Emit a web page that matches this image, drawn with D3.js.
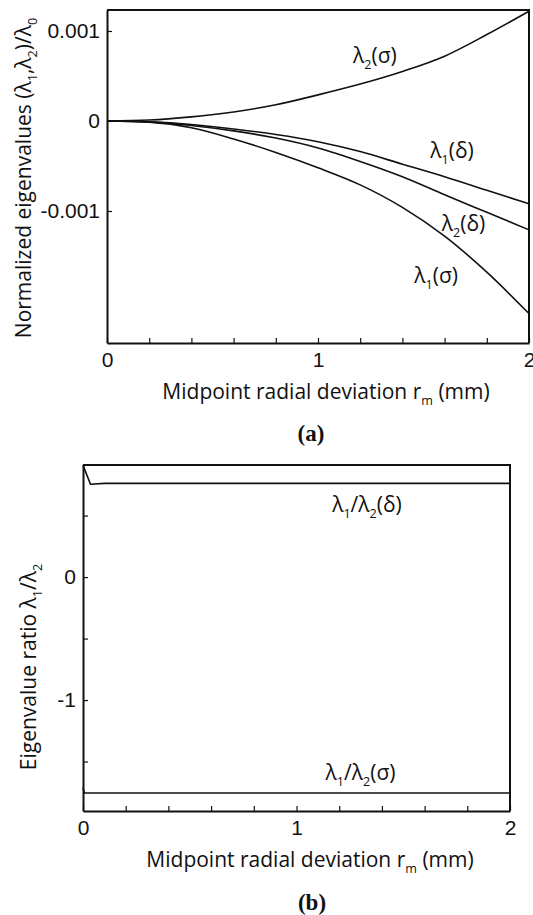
<!DOCTYPE html>
<html>
<head>
<meta charset="utf-8">
<script src="https://cdn.jsdelivr.net/npm/d3@7"></script>
<style>
  body { margin: 0; background: #fff; }
  svg { display: block; font-family: "Open Sans", sans-serif; }
  text { fill: #111; }
  .domain { stroke: #111; stroke-width: 2; }
  .tick line { stroke: #111; stroke-width: 1.2; }
</style>
</head>
<body>
<svg></svg>
<script>
let width = 533;
let height = 915;

// midpoint radial deviation r_m (mm)
let rm = [0, 0.2, 0.4, 0.6, 0.8, 1.0, 1.2, 1.4, 1.6, 1.8, 2.0];

// (a) normalized eigenvalues
let lam2Sigma = [0, 0.00001, 0.000045, 0.0001, 0.00018, 0.00029, 0.00041, 0.00055, 0.00072, 0.00096, 0.00122];
let lam1Delta = [0, -0.00001, -0.00004, -0.00009, -0.00015, -0.00023, -0.00034, -0.00048, -0.00062, -0.00077, -0.00092];
let lam2Delta = [0, -0.00001, -0.00005, -0.00011, -0.00019, -0.0003, -0.00045, -0.00062, -0.00082, -0.001015, -0.00121];
let lam1Sigma = [0, -0.000015, -0.000075, -0.0002, -0.00035, -0.00052, -0.00071, -0.00096, -0.00128, -0.00168, -0.00214];

// (b) eigenvalue ratio
let ratioDeltaX = [0, 0.035, 0.1, 2.0];
let ratioDelta = [0.91, 0.755, 0.762, 0.762];
let ratioSigmaX = [0, 0.006, 2.0];
let ratioSigma = [-1.71, -1.756, -1.756];

// ticks
let xTicks = [0, 0.2, 0.4, 0.6, 0.8, 1.0, 1.2, 1.4, 1.6, 1.8, 2.0];
let yTicksA = [-0.001, 0, 0.001];
let yTicksB = [-1.5, -1, -0.5, 0, 0.5];

let fs = 21;

let svg = d3.select("svg")
    .attr("width", width)
    .attr("height", height);

let pa = {left: 107, right: 529, top: 10, bottom: 343};
let pb = {left: 83, right: 510, top: 465, bottom: 811};

let xA = d3.scaleLinear().domain([0, 2]).range([pa.left, pa.right]);
let yA = d3.scaleLinear().domain([-0.002467, 0.001233]).range([pa.bottom, pa.top]);
let xB = d3.scaleLinear().domain([0, 2]).range([pb.left, pb.right]);
let yB = d3.scaleLinear().domain([-1.902, 0.911]).range([pb.bottom, pb.top]);

let fmtX = d => Math.abs(d - Math.round(d)) < 1e-9 ? String(Math.round(d)) : "";

// draws text with subscript parts: [["λ", false], ["1", true], ...]
function richText(g, parts, x, y, size, anchor, rotate) {
    let t = g.append("text")
        .attr("x", x)
        .attr("y", y)
        .attr("text-anchor", anchor || "middle")
        .style("font-size", size + "px");
    if (rotate) t.attr("transform", "rotate(-90," + x + "," + y + ")");
    let shift = 0;
    parts.forEach(p => {
        let dy = p[1] ? size * 0.3 - shift : -shift;
        shift = p[1] ? size * 0.3 : 0;
        t.append("tspan")
            .attr("dy", dy)
            .style("font-size", p[1] ? (size * 0.6) + "px" : null)
            .text(p[0]);
    });
    return t;
}

function frame(p) {
    svg.append("path")
        .attr("d", "M" + p.left + "," + p.top + "H" + p.right + "V" + p.bottom)
        .attr("fill", "none")
        .attr("stroke", "#111")
        .attr("stroke-width", 2);
}

function drawAxes(p, x, y, yTicks, yFmt) {
    frame(p);
    svg.append("g")
        .attr("transform", "translate(0," + p.bottom + ")")
        .call(d3.axisBottom(x).tickValues(xTicks).tickFormat(fmtX).tickSize(-5).tickSizeOuter(0).tickPadding(9))
        .call(g => g.selectAll("text").style("font-size", fs + "px").attr("fill", "#111").attr("font-family", null));
    svg.append("g")
        .attr("transform", "translate(" + p.left + ",0)")
        .call(d3.axisLeft(y).tickValues(yTicks).tickFormat(yFmt).tickSize(-5).tickSizeOuter(0).tickPadding(7))
        .call(g => g.selectAll("text").style("font-size", fs + "px").attr("fill", "#111").attr("font-family", null));
}

function curve(xs, ys, x, y, smooth) {
    let line = d3.line()
        .x(d => x(d[0]))
        .y(d => y(d[1]))
        .curve(smooth ? d3.curveMonotoneX : d3.curveLinear);
    svg.append("path")
        .datum(xs.map((v, i) => [v, ys[i]]))
        .attr("d", line)
        .attr("fill", "none")
        .attr("stroke", "#111")
        .attr("stroke-width", 1.6);
}

// ---- panel (a)
drawAxes(pa, xA, yA, yTicksA, d => d === 0 ? "0" : d.toFixed(3));
[lam2Sigma, lam1Delta, lam2Delta, lam1Sigma].forEach(s => curve(rm, s, xA, yA, true));

richText(svg, [["λ", false], ["2", true], ["(σ)", false]], xA(1.27), yA(0.000645), fs);
richText(svg, [["λ", false], ["1", true], ["(δ)", false]], xA(1.635), yA(-0.00041), fs);
richText(svg, [["λ", false], ["2", true], ["(δ)", false]], xA(1.69), yA(-0.00122), fs);
richText(svg, [["λ", false], ["1", true], ["(σ)", false]], xA(1.56), yA(-0.0018), fs);

richText(svg, [["Normalized eigenvalues (λ", false], ["1", true], [",λ", false], ["2", true], [")/λ", false], ["0", true]],
    31, 178, fs, "middle", true);
richText(svg, [["Midpoint radial deviation r", false], ["m", true], [" (mm)", false]], 326, 399, fs);
svg.append("text")
    .attr("x", 311).attr("y", 441)
    .attr("text-anchor", "middle")
    .style("font-family", "'Liberation Serif', serif")
    .style("font-weight", "bold")
    .style("font-size", "23px")
    .text("(a)");

// ---- panel (b)
drawAxes(pb, xB, yB, yTicksB, d => (d === 0 || d === -1) ? String(d) : "");
curve(ratioDeltaX, ratioDelta, xB, yB, false);
curve(ratioSigmaX, ratioSigma, xB, yB, false);

richText(svg, [["λ", false], ["1", true], ["/λ", false], ["2", true], ["(δ)", false]], xB(1.33), yB(0.53), fs);
richText(svg, [["λ", false], ["1", true], ["/λ", false], ["2", true], ["(σ)", false]], xB(1.30), yB(-1.65), fs);

richText(svg, [["Eigenvalue ratio λ", false], ["1", true], ["/λ", false], ["2", true]], 36, 667, fs, "middle", true);
richText(svg, [["Midpoint radial deviation r", false], ["m", true], [" (mm)", false]], 310, 867, fs);
svg.append("text")
    .attr("x", 312).attr("y", 910)
    .attr("text-anchor", "middle")
    .style("font-family", "'Liberation Serif', serif")
    .style("font-weight", "bold")
    .style("font-size", "23px")
    .text("(b)");
</script>
</body>
</html>
